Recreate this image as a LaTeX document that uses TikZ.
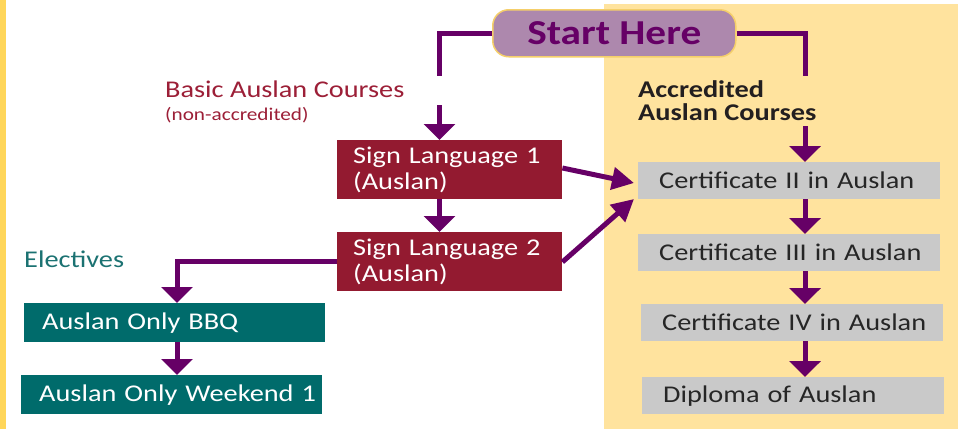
\documentclass[tikz,border=0pt]{standalone}
\usepackage{fontspec}
\setmainfont[FakeStretch=1.18]{Carlito}
\usetikzlibrary{arrows.meta,calc}
\definecolor{conn}{HTML}{660066}
\definecolor{startfill}{HTML}{AD88AD}
\definecolor{startborder}{HTML}{F5CF6A}
\definecolor{redbox}{HTML}{931A30}
\definecolor{redtext}{HTML}{9C1F37}
\definecolor{tealbox}{HTML}{006B6B}
\definecolor{tealtext}{HTML}{1B7272}
\definecolor{graybox}{HTML}{C9C9C9}
\definecolor{graytext}{HTML}{262626}
\definecolor{panel}{HTML}{FFE39E}
\definecolor{stripe}{HTML}{FFD65A}
\definecolor{acctext}{HTML}{231F20}
\tikzset{
  line/.style={draw=conn, line width=5pt},
  arr/.style={line, -{Triangle[width=31pt,length=16pt]}},
  darr/.style={line, -{Triangle[width=22pt,length=22pt]}},
  boxbase/.style={rectangle, anchor=north west, inner ysep=0pt, align=left, font=\fontsize{24}{26.5}\selectfont},
  redb/.style={boxbase, fill=redbox, text=white, minimum width=225pt, minimum height=59pt, inner xsep=16pt, text width=193pt},
  tealb/.style={boxbase, fill=tealbox, text=white, minimum width=301pt, minimum height=39pt, inner xsep=18pt, text width=265pt},
  grayb/.style={boxbase, fill=graybox, text=graytext, minimum width=302pt, minimum height=37pt, inner xsep=21pt, text width=260pt},
  lbl/.style={anchor=base west, inner sep=0pt, align=left},
}
\begin{document}
\begin{tikzpicture}[x=1pt, y=-1pt]
\useasboundingbox (0,0) rectangle (958,429);
\fill[white] (0,0) rectangle (958,429);
\fill[stripe] (0,0) rectangle (6,429);
\fill[panel] (604,4) rectangle (958,429);

% start
\node[rectangle, rounded corners=16pt, fill=startfill, draw=startborder, line width=1.5pt,
      minimum width=243pt, minimum height=47pt, anchor=north west, inner sep=0pt,
      text=conn, font=\fontsize{35}{37}\selectfont\bfseries] (start) at (492,9) {Start Here};

% labels
\node[lbl, text=redtext, font=\fontsize{24}{26}\selectfont] (basic) at (165,97) {Basic Auslan Courses};
\node[lbl, text=redtext, font=\fontsize{18}{20}\selectfont] (nonacc) at (165,120) {(non-accredited)};
\node[lbl, text=acctext, font=\fontsize{24}{24}\selectfont\bfseries] (acc1) at (638,97) {Accredited};
\node[lbl, text=acctext, font=\fontsize{24}{24}\selectfont\bfseries] (acc2) at (638,120) {Auslan Courses};
\node[lbl, text=tealtext, font=\fontsize{24}{26}\selectfont] (elect) at (24,267) {Electives};

% boxes
\node[redb] (sl1) at (337,140) {\mbox{Sign Language 1}\\\mbox{(Auslan)}};
\node[redb] (sl2) at (337,232) {\mbox{Sign Language 2}\\\mbox{(Auslan)}};
\node[tealb] (bbq) at (24,303) {\mbox{Auslan Only BBQ}};
\node[tealb] (wk) at (21,375) {\mbox{Auslan Only Weekend 1}};
\node[grayb] (c2) at (638,162) {\mbox{Certificate II in Auslan}};
\node[grayb] (c3) at (638,234) {\mbox{Certificate III in Auslan}};
\node[grayb] (c4) at (641,304) {\mbox{Certificate IV in Auslan}};
\node[grayb] (dip) at (642,377) {\mbox{Diploma of Auslan}};

% coordinates
\coordinate (lstop) at (439.5,76);
\coordinate (lstart) at (439.5,105);
\coordinate (rstop) at (805,76);
\coordinate (rstart) at (805,126);
\coordinate (ex) at (177,262);
\coordinate (t1) at (634,183);
\coordinate (t2) at (634,199);

% connectors
\draw[line] (start.west) -| (lstop);
\draw[line] (start.east) -| (rstop);
\draw[arr] (lstart) -- (lstart |- sl1.north);
\draw[arr] (lstart |- sl1.south) -- (lstart |- sl2.north);
\draw[arr] (sl2.west) -| (ex |- bbq.north);
\draw[arr] (ex |- bbq.south) -- (ex |- wk.north);
\draw[arr] (rstart) -- (rstart |- c2.north);
\draw[arr] (rstart |- c2.south) -- (rstart |- c3.north);
\draw[arr] (rstart |- c3.south) -- (rstart |- c4.north);
\draw[arr] (rstart |- c4.south) -- (rstart |- dip.north);
\draw[darr] (sl1.east |- 0,168) -- (t1);
\draw[darr] (sl2.east |- 0,262) -- (t2);
\end{tikzpicture}
\end{document}
